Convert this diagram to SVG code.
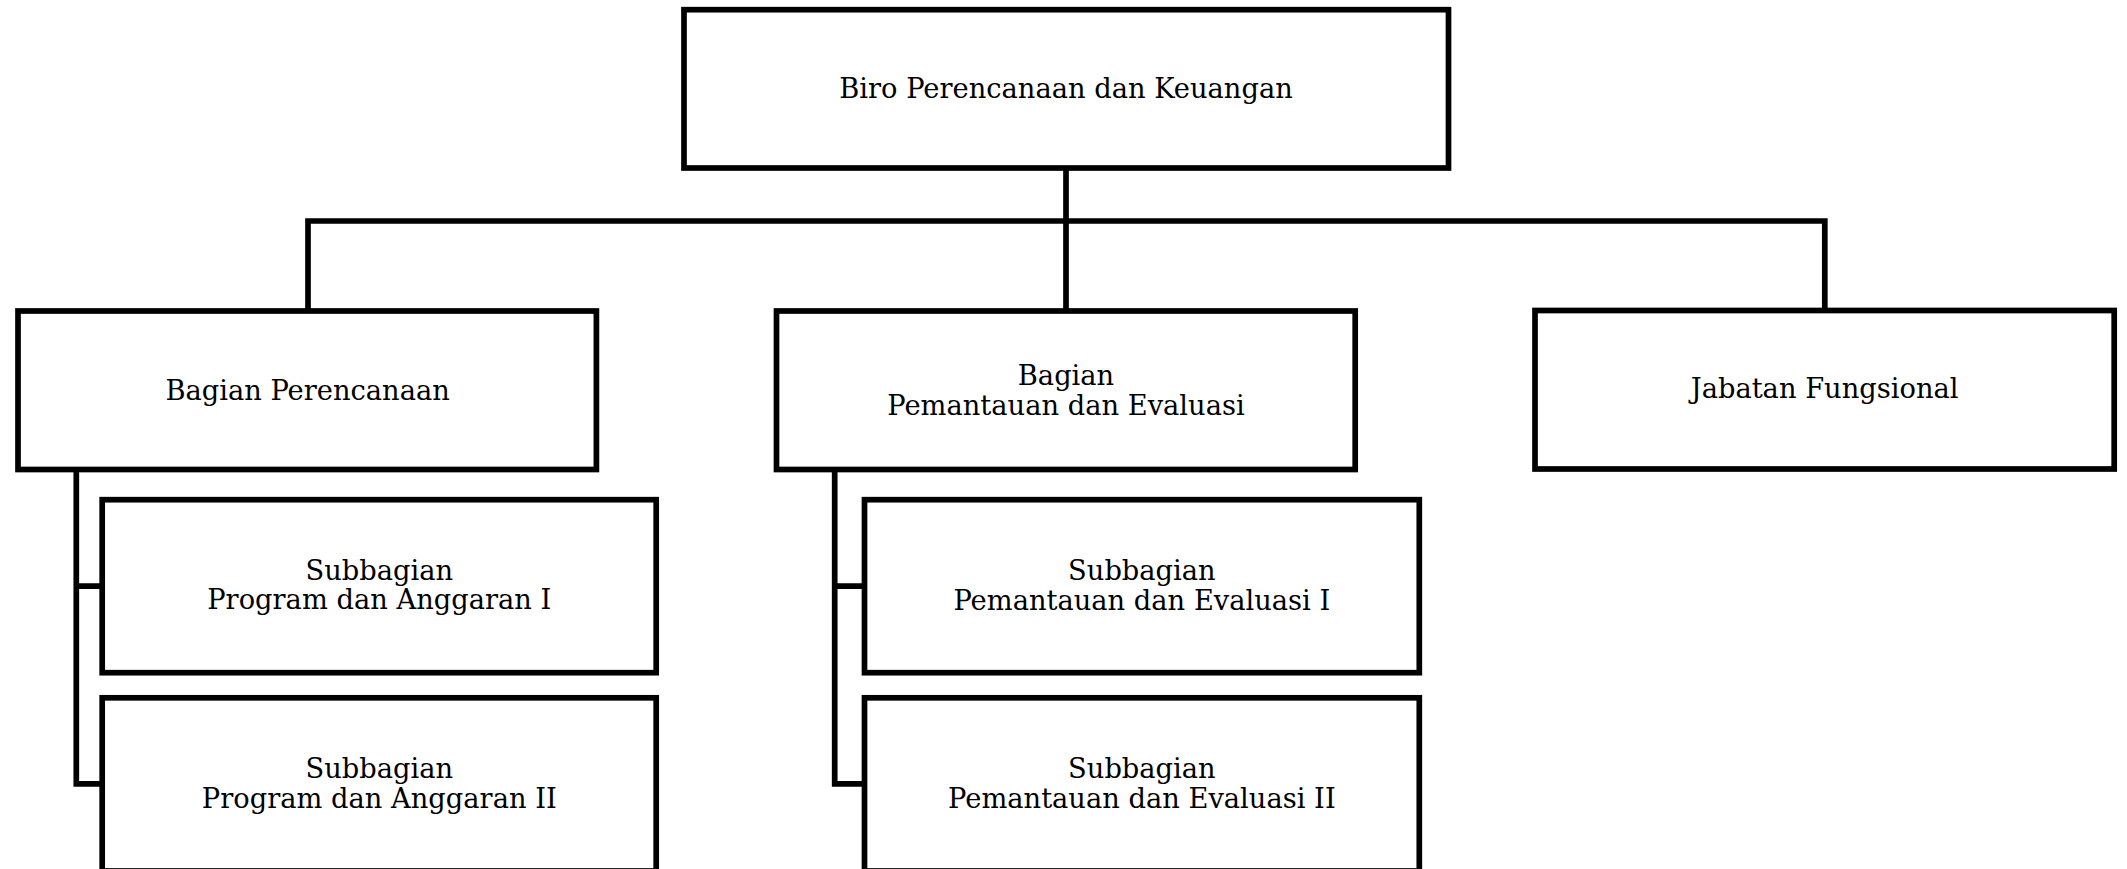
<svg xmlns="http://www.w3.org/2000/svg" width="2127" height="869" viewBox="0 0 2127 869">
<style>
.box{fill:#fff;stroke:#000;stroke-width:5.7}
.con{fill:none;stroke:#000;stroke-width:5.7;stroke-linejoin:miter;stroke-linecap:butt}
text{font-family:"DejaVu Serif","Liberation Serif",serif;font-size:27.3px;fill:#000;text-anchor:middle}
</style>
<rect width="2127" height="869" fill="#fff"/>
<g id="connectors">
<path class="con" d="M1066,168 V311"/>
<path class="con" d="M308,311 V221 H1824.8 V310.5"/>
<path class="con" d="M76.3,469.5 V783.8 H102.2 M76.3,586.2 H102.2"/>
<path class="con" d="M834.7,469.5 V783.8 H864.5 M834.7,586.2 H864.5"/>
</g>
<g id="biro">
<rect class="box" x="684" y="9.7" width="764.5" height="158.3"/>
<text x="1066" y="97.7">Biro Perencanaan dan Keuangan</text>
</g>
<g id="bagian-perencanaan">
<rect class="box" x="18" y="311" width="578.4" height="158.5"/>
<text x="307.6" y="399.6">Bagian Perencanaan</text>
</g>
<g id="bagian-pemantauan">
<rect class="box" x="776.5" y="311" width="578.7" height="158.5"/>
<text x="1066" y="385">Bagian</text>
<text x="1066" y="415">Pemantauan dan Evaluasi</text>
</g>
<g id="jabatan-fungsional">
<rect class="box" x="1535" y="310.5" width="579.2" height="158.5"/>
<text x="1824.6" y="398.3">Jabatan Fungsional</text>
</g>
<g id="sub-program-1">
<rect class="box" x="102.2" y="499.7" width="554" height="173"/>
<text x="379.3" y="579.5">Subbagian</text>
<text x="379.3" y="609">Program dan Anggaran I</text>
</g>
<g id="sub-program-2">
<rect class="box" x="102.2" y="697.8" width="554" height="173.2"/>
<text x="379.3" y="778">Subbagian</text>
<text x="379.3" y="808">Program dan Anggaran II</text>
</g>
<g id="sub-pemantauan-1">
<rect class="box" x="864.5" y="499.7" width="554.8" height="173"/>
<text x="1141.9" y="579.5">Subbagian</text>
<text x="1141.9" y="609.5">Pemantauan dan Evaluasi I</text>
</g>
<g id="sub-pemantauan-2">
<rect class="box" x="864.5" y="697.8" width="554.8" height="173.2"/>
<text x="1141.9" y="778">Subbagian</text>
<text x="1141.9" y="808">Pemantauan dan Evaluasi II</text>
</g>
</svg>
